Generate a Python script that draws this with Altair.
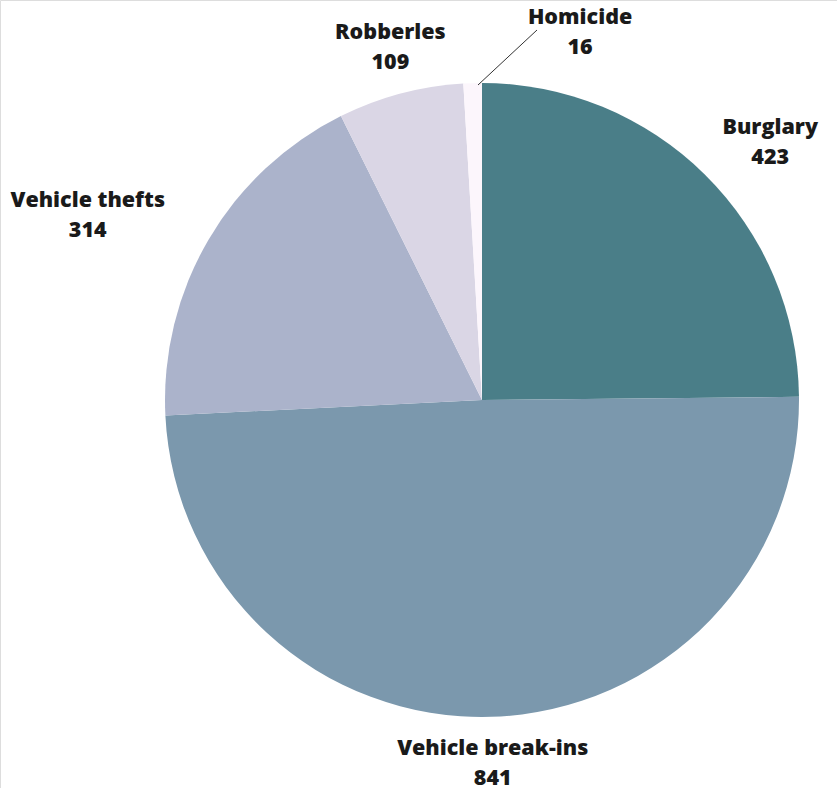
import altair as alt
import pandas as pd

categories = ["Burglary", "Vehicle break-ins", "Vehicle thefts", "Robberles", "Homicide"]
values = [423, 841, 314, 109, 16]
colors = ["#4a7e88", "#7b98ad", "#abb3cb", "#dad6e5", "#fcf6fc"]

df = pd.DataFrame({
    "category": categories,
    "value": values,
    "order": list(range(len(categories))),
})
df["label"] = df["category"] + "\n" + df["value"].astype(str)

CX, CY = 482, 400

base = alt.Chart(df).encode(
    theta=alt.Theta("value:Q", stack=True),
    order=alt.Order("order:Q"),
    x=alt.value(CX),
    y=alt.value(CY),
)

pie = base.mark_arc(radius=317).encode(
    color=alt.Color("category:N", scale=alt.Scale(domain=categories, range=colors), legend=None)
)

def label(cat, r, dx=0, dy=0):
    return base.mark_text(
        radius=r, dx=dx, dy=dy, font="Open Sans", fontWeight=800, fontSize=21.5,
        lineBreak="\n", lineHeight=30, align="center", baseline="middle", color="#1a1a1a"
    ).encode(text=alt.condition(alt.datum.category == cat, "label:N", alt.value("")))

labels = [
    label("Burglary", 387, dx=16, dy=3),
    label("Vehicle break-ins", 363, dy=-14),
    label("Vehicle thefts", 435, dx=-19, dy=21),
    label("Robberles", 364, dx=2, dy=-15),
    label("Homicide", 370, dx=109, dy=-12),
]

leader = alt.Chart(df.head(1)).mark_rule(color="#333333", strokeWidth=1).encode(
    x=alt.value(478), y=alt.value(85), x2=alt.value(537), y2=alt.value(30)
)

chart = alt.layer(pie, leader, *labels).properties(
    width=837, height=788, padding=0, autosize="none"
).configure_view(stroke=None).configure(background="white")

chart.save("out.html", embed_options={"renderer": "svg", "actions": False})
